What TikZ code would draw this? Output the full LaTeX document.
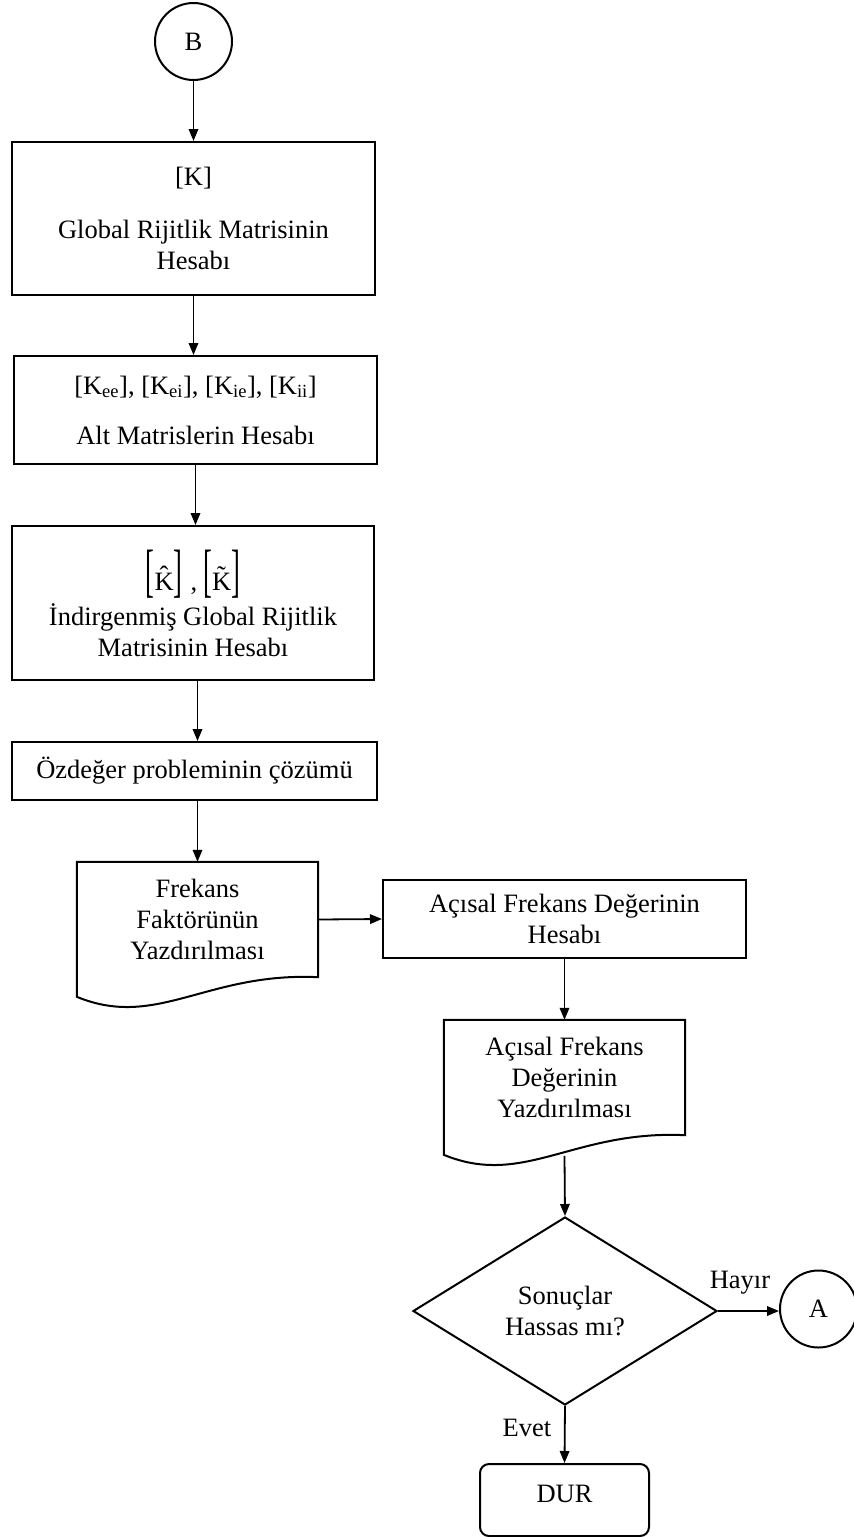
\documentclass[tikz,border=0pt]{standalone}
\usepackage{fontspec}
\setmainfont{Liberation Serif}
\usepackage{graphicx}
\usetikzlibrary{arrows.meta,shapes.geometric,calc}

% tall square bracket
\newcommand{\bigbr}[1]{\scalebox{1}[2.2]{#1}}

% outline of a "document" symbol drawn around a plain node
\newcommand{\docoutline}[1]{%
  \draw[line width=2pt, line join=miter]
    (#1.north west) -- (#1.north east) -- (#1.south east)
    .. controls ($(#1.north west)+(130,110)$) and ($(#1.north west)+(80,168)$)
    .. ($(#1.north west)+(0,135)$) -- cycle;}

\begin{document}
\begin{tikzpicture}[x=1pt,y=-1pt,
  every node/.style={font=\fontsize{26.5}{31}\selectfont},
  box/.style={draw, line width=2pt, align=center, inner sep=0pt},
  conn/.style={draw, line width=2pt, circle, inner sep=0pt, minimum size=77pt},
  docbox/.style={inner sep=0pt, align=center, minimum width=241pt, minimum height=115pt},
  arr/.style={line width=1.8pt, -{Triangle[length=12pt,width=9.5pt]}},
  lbl/.style={inner sep=0pt}]
\useasboundingbox (0,0) rectangle (854,1537);

% main column
\node[conn] (B) at (193.5,41.5) {B};
\node[box, minimum width=363pt, minimum height=153pt] (K) at (193.5,218.5)
  {[K]\\[22pt]Global Rijitlik Matrisinin\\Hesabı};
\node[box, minimum width=363pt, minimum height=108pt] (sub) at (195.5,410)
  {[K\textsubscript{ee}], [K\textsubscript{ei}], [K\textsubscript{ie}], [K\textsubscript{ii}]\\[19pt]Alt Matrislerin Hesabı};
\node[box, minimum width=362pt, minimum height=154pt] (red) at (193,603)
  {\bigbr{[}K̂\bigbr{]}\hspace{8pt},\hspace{6pt}\bigbr{[}K̃\bigbr{]}\\[4pt]İndirgenmiş Global Rijitlik\\Matrisinin Hesabı};
\node[box, minimum width=365pt, minimum height=58pt] (eig) at (194.5,771)
  {Özdeğer probleminin çözümü};
\node[docbox] (doc1) at (197.5,919.5) {Frekans\\Faktörünün\\Yazdırılması};
\docoutline{doc1}

% right column
\node[box, minimum width=363pt, minimum height=78pt] (omg) at (564.5,919)
  {Açısal Frekans Değerinin\\Hesabı};
\node[docbox] (doc2) at (564.5,1077.5) {Açısal Frekans\\Değerinin\\Yazdırılması};
\docoutline{doc2}
\coordinate (doc2w) at ($(doc2.north)+(0,136)$);
\node[draw, diamond, aspect=1.617, line width=2pt, inner sep=0pt, align=center,
  minimum width=304pt, minimum height=188pt] (dec) at (565,1311) {Sonuçlar\\Hassas mı?};
\node[conn] (A) at (818.5,1309) {A};
\node[box, rounded corners=9pt, minimum width=169pt, minimum height=72pt, text depth=11.5pt]
  (stop) at (564.5,1500) {DUR};

% branch labels
\node[lbl] (hayir) at (740,1283) {Hayır};
\node[lbl] (evet) at (527,1428) {Evet};

% connectors
\draw[arr] (B) -- (K);
\draw[arr] (K.south) -- (K.south |- sub.north);
\draw[arr] (sub.south) -- (sub.south |- red.north);
\draw[arr] (red.south -| doc1.north) -- (eig.north -| doc1.north);
\draw[arr] (eig.south -| doc1.north) -- (doc1.north);
\draw[arr] (doc1.east) -- (omg.west);
\draw[arr] (omg.south) -- (doc2.north);
\draw[arr] (doc2w) -- (dec.north);
\draw[arr] (dec.east) -- (dec.east -| A.west);
\draw[arr] (dec.south) -- (stop.north);
\end{tikzpicture}
\end{document}
